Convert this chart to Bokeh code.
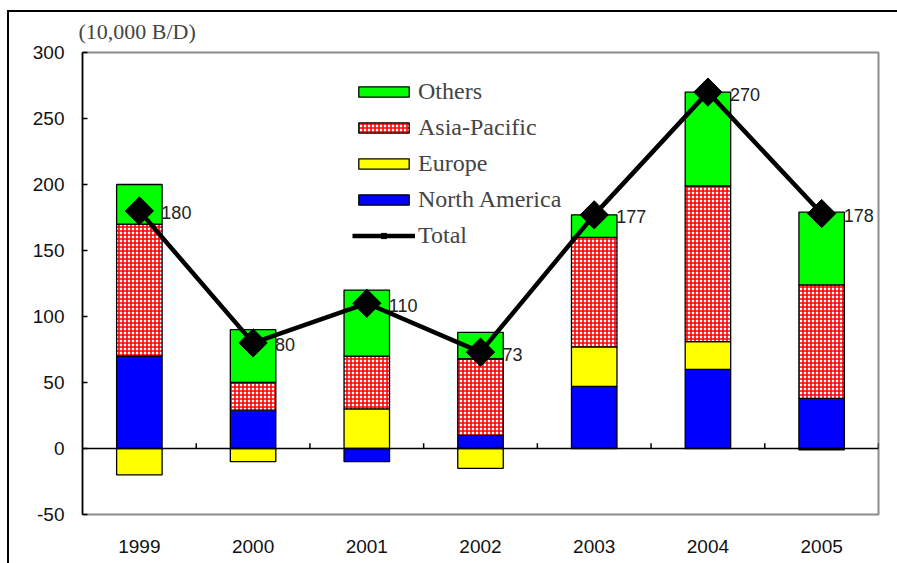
import numpy as np
from bokeh.plotting import figure
from bokeh.models import Range1d, FixedTicker, Legend, LegendItem, Span, InlineStyleSheet
from bokeh.core.properties import value
from bokeh.embed import file_html
from bokeh.resources import INLINE

# ---- data ----
years = ["1999", "2000", "2001", "2002", "2003", "2004", "2005"]
north_america = [70, 29, -10, 10, 47, 60, 38]
europe = [-20, -10, 30, -15, 30, 21, -1]
asia_pacific = [100, 21, 40, 58, 83, 118, 86]
others = [30, 40, 50, 20, 17, 71, 55]
total = [180, 80, 110, 73, 177, 270, 178]
y_ticks = [-50, 0, 50, 100, 150, 200, 250, 300]
unit_label = "(10,000 B/D)"

idx = list(range(len(years)))

# stacking (positives up, negatives down), order bottom -> top
series = [
    ("North America", north_america),
    ("Europe", europe),
    ("Asia-Pacific", asia_pacific),
    ("Others", others),
]
pos_base = [0.0] * len(years)
neg_base = [0.0] * len(years)
stacks = {}
for name, vals in series:
    bottoms, tops = [], []
    for i, v in enumerate(vals):
        if v >= 0:
            bottoms.append(pos_base[i]); tops.append(pos_base[i] + v); pos_base[i] += v
        else:
            tops.append(neg_base[i]); bottoms.append(neg_base[i] + v); neg_base[i] += v
    stacks[name] = (bottoms, tops)

p = figure(width=897, height=563,
           x_range=Range1d(-0.5, len(years) - 0.5), y_range=Range1d(y_ticks[0], y_ticks[-1]),
           output_backend="svg", toolbar_location=None,
           min_border_left=82, min_border_right=19, min_border_top=52, min_border_bottom=49)
# outer chart border (top and left edges only, as in the cropped original)
p.stylesheets = [InlineStyleSheet(css="""
:host { position: relative; }
:host::after { content: ""; position: absolute; left: 7px; top: 10px; right: -10px; bottom: -10px;
  border-top: 2px solid black; border-left: 2px solid black; pointer-events: none; z-index: 10; }
""")]
p.background_fill_color = "white"
p.border_fill_color = "white"
p.outline_line_color = "#8c8c8c"
p.outline_line_width = 2
p.xgrid.visible = False
p.ygrid.visible = False

p.title.text = unit_label
p.title.text_font = "Liberation Serif"
p.title.text_font_size = "22px"
p.title.text_font_style = "normal"
p.title.align = "left"
p.title.offset = -4
p.title.standoff = 18

# y axis
p.yaxis.ticker = FixedTicker(ticks=y_ticks)
p.yaxis.major_label_overrides = {t: str(t) for t in y_ticks}
p.yaxis.axis_line_color = "black"
p.yaxis.axis_line_width = 1.5
p.yaxis.major_tick_in = 5
p.yaxis.major_tick_out = 0
p.yaxis.major_tick_line_width = 1.5
p.yaxis.minor_tick_line_color = None
p.yaxis.major_label_standoff = 18
p.yaxis.major_label_text_font = "Liberation Sans"
p.yaxis.major_label_text_font_size = "19px"
p.yaxis.major_label_text_color = "#111111"

# x axis
p.xaxis.ticker = FixedTicker(ticks=idx)
p.xaxis.major_label_overrides = {i: y for i, y in enumerate(years)}
p.xaxis.axis_line_color = None
p.xaxis.major_tick_line_color = None
p.xaxis.minor_tick_line_color = None
p.xaxis.major_label_standoff = 19
p.xaxis.major_label_text_font = "Liberation Sans"
p.xaxis.major_label_text_font_size = "19px"
p.xaxis.major_label_text_color = "#111111"

# data labels (under bars, like the original)
p.text(x=idx, y=total, text=[str(t) for t in total], x_offset=22, y_offset=2,
       text_align="left", text_baseline="middle",
       text_font=value("Liberation Sans"), text_font_size="18px", text_color="#222222")

colors = {"North America": "#0000FF", "Europe": "#FFFF00", "Others": "#00FF00"}
renderers = {}
for name, _ in series:
    b, t = stacks[name]
    if name == "Asia-Pacific":
        r = p.vbar(x=idx, bottom=b, top=t, width=0.4, fill_color="white",
                   hatch_pattern="cross", hatch_color="#FF0000", hatch_scale=4, hatch_weight=1.6,
                   line_color="black", line_width=1.3)
    else:
        r = p.vbar(x=idx, bottom=b, top=t, width=0.4, fill_color=colors[name],
                   line_color="black", line_width=1.3)
    renderers[name] = r

# zero line and category tick marks
p.add_layout(Span(location=0, dimension="width", line_color="black", line_width=1.5))
bounds = [i + 0.5 for i in idx]
p.segment(x0=bounds, y0=[0] * len(bounds), x1=bounds, y1=[4] * len(bounds),
          line_color="black", line_width=1.5)

line_r = p.line(idx, total, line_color="black", line_width=4.5)
mark_r = p.scatter(idx, total, marker="square", angle=np.pi / 4, size=20,
                   fill_color="black", line_color="black")

legend = Legend(items=[
    LegendItem(label="Others", renderers=[renderers["Others"]]),
    LegendItem(label="Asia-Pacific", renderers=[renderers["Asia-Pacific"]]),
    LegendItem(label="Europe", renderers=[renderers["Europe"]]),
    LegendItem(label="North America", renderers=[renderers["North America"]]),
    LegendItem(label="Total", renderers=[line_r, mark_r]),
], location=(270, 265), glyph_width=63, glyph_height=13, label_height=28, spacing=8,
    padding=0, margin=0, border_line_color=None, background_fill_alpha=0,
    label_text_font="Liberation Serif", label_text_font_size="24px", label_standoff=3)
p.add_layout(legend)

open("out.html", "w").write(file_html(p, INLINE))
